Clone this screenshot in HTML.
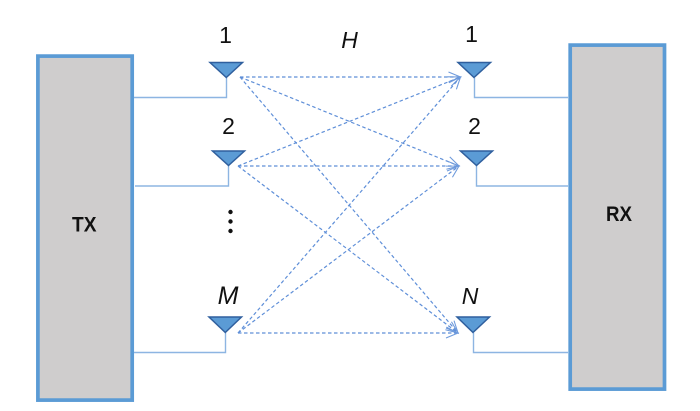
<!DOCTYPE html>
<html>
<head>
<meta charset="utf-8">
<style>
html,body{margin:0;padding:0;background:#fff;width:700px;height:411px;overflow:hidden}
svg{display:block}
text{font-family:"Liberation Sans",sans-serif;fill:#111}
</style>
</head>
<body>
<svg width="700" height="411" viewBox="0 0 700 411" xmlns="http://www.w3.org/2000/svg">
<defs>
<marker id="a" markerUnits="userSpaceOnUse" markerWidth="15" markerHeight="14" refX="13" refY="6" orient="auto">
<path d="M1 1 L13 6 L1 11" fill="none" stroke="#6f9bdc" stroke-width="1.1"/>
</marker>
</defs>
<rect x="37.900" y="56.100" width="94.300" height="344" fill="#cfcdcd" stroke="#5b9bd5" stroke-width="3.700"/>
<rect x="570.200" y="45.100" width="94.300" height="344" fill="#cfcdcd" stroke="#5b9bd5" stroke-width="3.700"/>
<g fill="none" stroke="#8db5e2" stroke-width="1.400">
<path d="M134 97.500H226.500V78"/>
<path d="M135 186H228.500V166"/>
<path d="M134 352.500H225.500V333"/>
<path d="M568 97.500H474.500V78"/>
<path d="M568 186H476.500V166"/>
<path d="M568 352.500H473.500V333"/>
</g>
<g fill="#5b9bd5" stroke="#2f5f9e" stroke-width="1.500">
<path d="M210 62.500H242.500L226.300 77.500Z"/>
<path d="M212.500 151H244.500L228.500 165.500Z"/>
<path d="M209 317H241.500L225.300 332.500Z"/>
<path d="M458 62.500H490.500L474 77.500Z"/>
<path d="M460.500 151H492.500L476.500 165.500Z"/>
<path d="M457 317H489.500L473 332.500Z"/>
</g>
<g fill="none" stroke="#5f8fd8" stroke-width="1.200" stroke-dasharray="3.500 2.500" marker-end="url(#a)">
<path d="M240 77H460.500"/>
<path d="M240 77L459 166"/>
<path d="M240 77L458 333"/>
<path d="M238 166L460.500 77"/>
<path d="M238 166H459"/>
<path d="M238 166L458 333"/>
<path d="M238 333L460.500 77"/>
<path d="M238 333L459 166"/>
<path d="M238 333H458"/>
</g>
<g fill="#111">
<circle cx="230.500" cy="212" r="2.200"/>
<circle cx="230.500" cy="221.500" r="2.200"/>
<circle cx="230.500" cy="231" r="2.200"/>
</g>
<g font-size="23" text-anchor="middle">
<text x="225.500" y="43">1</text>
<text x="228.500" y="134">2</text>
<text x="471.500" y="42">1</text>
<text x="474.500" y="134">2</text>
<text x="349.500" y="48" font-style="italic">H</text>
<text x="228" y="304" font-size="25" font-style="italic">M</text>
<text x="470" y="304" font-style="italic">N</text>
</g>
<g font-size="21" font-weight="bold">
<text x="72" y="231.500" textLength="24.500" lengthAdjust="spacingAndGlyphs">TX</text>
<text x="606" y="221" textLength="26" lengthAdjust="spacingAndGlyphs">RX</text>
</g>
</svg>
</body>
</html>
